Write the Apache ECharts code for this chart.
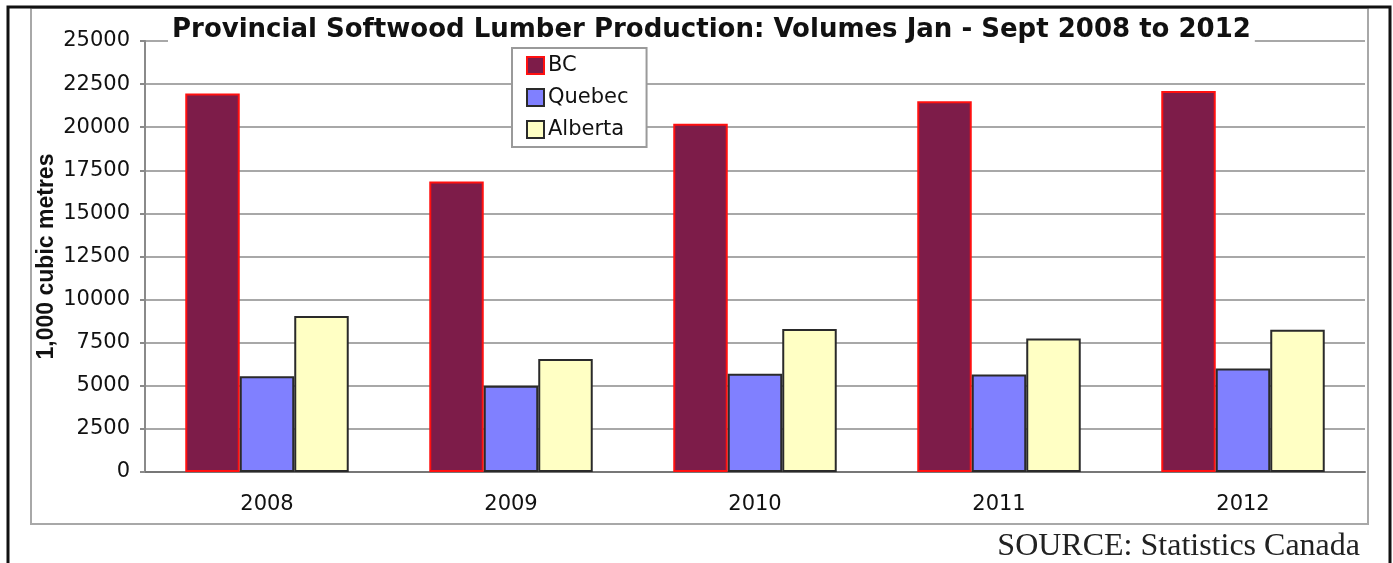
<!DOCTYPE html>
<html>
<head>
<meta charset="utf-8">
<script src="https://cdn.jsdelivr.net/npm/echarts@6/dist/echarts.min.js"></script>
<style>
html,body{margin:0;padding:0;background:#fff;}
#chart{width:1393px;height:563px;}
</style>
</head>
<body>
<div id="chart"></div>
<script>
const categories = ['2008', '2009', '2010', '2011', '2012'];
const bcValues = [21950, 16850, 20200, 21500, 22100];
const quebecValues = [5550, 5000, 5700, 5650, 6000];
const albertaValues = [9050, 6550, 8300, 7750, 8250];
const seriesNames = ['BC', 'Quebec', 'Alberta'];
const titleText = 'Provincial Softwood Lumber Production: Volumes Jan - Sept 2008 to 2012';
const yAxisName = '1,000 cubic metres';
const sourceText = 'SOURCE: Statistics Canada';

const chart = echarts.init(document.getElementById('chart'), null, {renderer: 'canvas'});
const labelFont = 'DejaVu Sans';
chart.setOption({
  backgroundColor: '#fff',
  animation: false,
  title: {
    text: titleText,
    left: 168,
    top: 15,
    padding: [2, 4, 2, 4],
    backgroundColor: '#fff',
    textStyle: {fontFamily: 'DejaVu Sans', fontWeight: 'bold', fontSize: 26, color: '#111'}
  },
  legend: {
    orient: 'vertical',
    left: 512,
    top: 48,
    padding: [7, 18, 7, 14],
    itemGap: 11,
    itemWidth: 17,
    itemHeight: 17,
    icon: 'rect',
    backgroundColor: '#fff',
    borderColor: '#9a9a9a',
    borderWidth: 2,
    textStyle: {fontFamily: labelFont, fontSize: 21, color: '#111', padding: [0, 0, 0, -1]},
    data: seriesNames
  },
  grid: {left: 145, right: 28, top: 41, bottom: 91, containLabel: false},
  xAxis: {
    type: 'category',
    data: categories,
    axisLine: {lineStyle: {color: '#777', width: 2}},
    axisTick: {show: false},
    axisLabel: {fontFamily: labelFont, fontSize: 21, color: '#111', margin: 22}
  },
  yAxis: {
    type: 'value',
    min: 0, max: 25000, interval: 2500,
    name: yAxisName,
    nameLocation: 'middle',
    nameGap: 87,
    nameMoveOverlap: false,
    nameTextStyle: {fontFamily: 'Liberation Sans', fontWeight: 'bold', fontSize: 23, color: '#111'},
    axisLine: {show: true, lineStyle: {color: '#8a8a8a', width: 2}},
    axisTick: {show: true, length: 5, lineStyle: {color: '#8a8a8a', width: 2}},
    axisLabel: {fontFamily: labelFont, fontSize: 21, color: '#111', margin: 15,
      formatter: function (v) { return String(v); }},
    splitLine: {lineStyle: {color: '#a8a8a8', width: 2}}
  },
  series: [
    {name: seriesNames[0], type: 'bar', data: bcValues, barGap: '0%', barCategoryGap: '33%',
     itemStyle: {color: '#7d1c49', borderColor: '#ff1010', borderWidth: 2}},
    {name: seriesNames[1], type: 'bar', data: quebecValues, barGap: '0%', barCategoryGap: '33%',
     itemStyle: {color: '#8080ff', borderColor: '#2a2a2a', borderWidth: 2}},
    {name: seriesNames[2], type: 'bar', data: albertaValues, barGap: '0%', barCategoryGap: '33%',
     itemStyle: {color: '#ffffc4', borderColor: '#2a2a2a', borderWidth: 2}}
  ],
  graphic: [
    {type: 'rect', z: -1, silent: true, shape: {x: 31, y: 8, width: 1337, height: 516},
     style: {fill: 'none', stroke: '#a8a8a8', lineWidth: 2}},
    {type: 'rect', z: 100, silent: true, shape: {x: 8, y: 7, width: 1382, height: 600},
     style: {fill: 'none', stroke: '#111', lineWidth: 3}},
    {type: 'text', z: 100, silent: true, style: {text: sourceText, x: 1360, y: 547, align: 'right', verticalAlign: 'middle',
      fontFamily: 'Liberation Serif', fontSize: 32, fill: '#222'}}
  ]
});
</script>
</body>
</html>
